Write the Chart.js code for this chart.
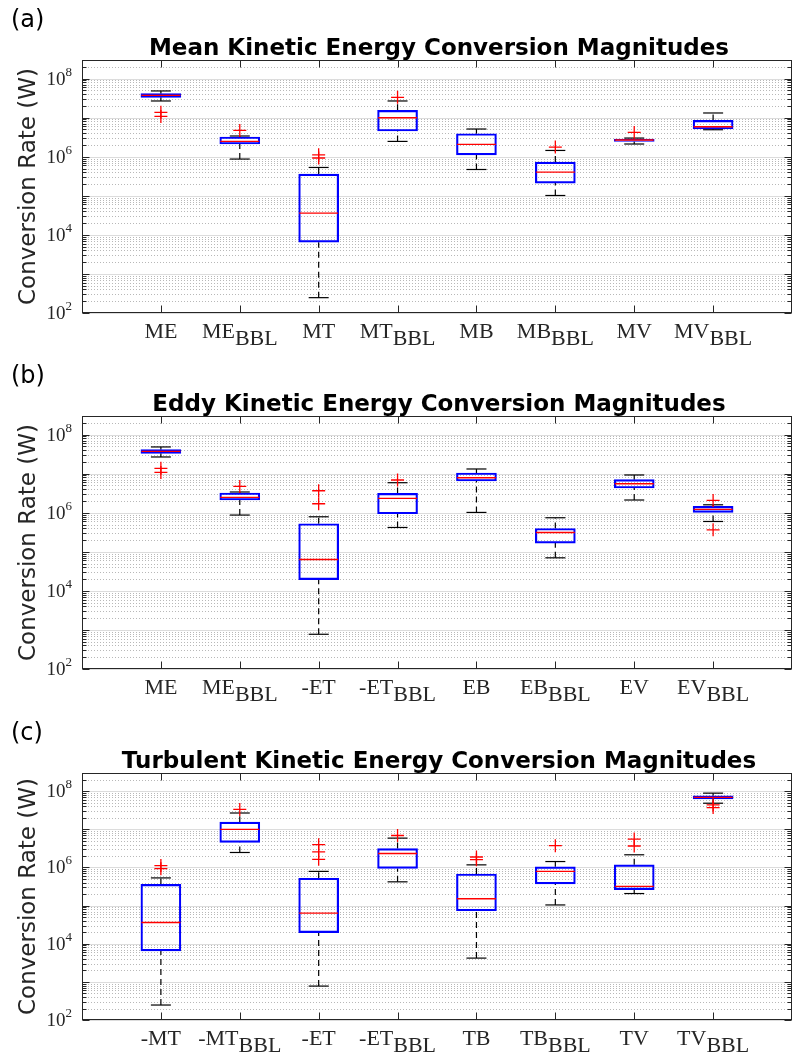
<!DOCTYPE html>
<html>
<head>
<meta charset="utf-8">
<script src="https://cdn.jsdelivr.net/npm/chart.js@4.4.1/dist/chart.umd.min.js"></script>
<style>
  body { margin: 0; background: #fff; }
  .panel { position: absolute; left: 0; }
</style>
</head>
<body>
<div class="panel" style="top:0px"><canvas id="chartA" width="793" height="356"></canvas></div>
<div class="panel" style="top:356px"><canvas id="chartB" width="793" height="356"></canvas></div>
<div class="panel" style="top:713px"><canvas id="chartC" width="793" height="350"></canvas></div>
<script>
// axis limits and tick labels
const yMin = 1e2;
const yMax = 3e8;
const yTickExponents = [2, 4, 6, 8];

// (a) mean kinetic energy
const meanLabels = ["ME", "ME_BBL", "MT", "MT_BBL", "MB", "MB_BBL", "MV", "MV_BBL"];
const meanLo  = [2.68e7, 8.73e5, 247,   2.47e6, 4.72e5, 1.02e5, 2.12e6, 4.92e6];
const meanQ1  = [3.32e7, 2.12e6, 6.5e3, 4.56e6, 1.12e6, 2.12e5, 2.47e6, 5.13e6];
const meanMed = [3.73e7, 2.47e6, 3.6e4, 1.0e7,  2.07e6, 4.05e5, 2.68e6, 5.88e6];
const meanQ3  = [4.12e7, 3.20e6, 3.6e5, 1.54e7, 3.89e6, 7.31e5, 2.84e6, 8.53e6];
const meanHi  = [4.84e7, 3.40e6, 5.32e5, 2.68e7, 5.13e6, 1.45e6, 3.01e6, 1.32e7];
const meanOut = [[1.37e7, 1.08e7], [4.72e6], [1.12e6, 9.3e5], [3.32e7], [], [1.77e6], [4.2e6], []];

// (b) eddy kinetic energy
const eddyLabels = ["ME", "ME_BBL", "-ET", "-ET_BBL", "EB", "EB_BBL", "EV", "EV_BBL"];
const eddyLo  = [2.68e7, 8.73e5, 775,    4.2e5,  1.02e6, 7.02e4, 2.12e6, 5.98e5];
const eddyQ1  = [3.32e7, 2.12e6, 1.95e4, 9.43e5, 6.5e6,  1.67e5, 4.3e6,  1.02e6];
const eddyMed = [3.73e7, 2.47e6, 6.35e4, 2.33e6, 7.89e6, 3.12e5, 5.54e6, 1.22e6];
const eddyQ3  = [4.12e7, 3.20e6, 5.22e5, 3.13e6, 1.04e7, 3.96e5, 7.02e6, 1.45e6];
const eddyHi  = [4.84e7, 3.40e6, 7.89e5, 5.88e6, 1.32e7, 7.45e5, 9.27e6, 1.60e6];
const eddyOut = [[1.37e7, 1.08e7], [4.72e6], [3.66e6, 1.70e6], [6.89e6], [], [], [], [2.07e6, 3.66e5]];

// (c) turbulent kinetic energy
const turbLabels = ["-MT", "-MT_BBL", "-ET", "-ET_BBL", "TB", "TB_BBL", "TV", "TV_BBL"];
const turbLo  = [247,    2.47e6, 775,    4.2e5,  4.2e3,  1.04e5, 2.07e5, 4.84e7];
const turbQ1  = [6.5e3,  4.56e6, 1.95e4, 9.43e5, 7.31e4, 3.73e5, 2.62e5, 6.24e7];
const turbMed = [3.6e4,  1.0e7,  6.35e4, 2.33e6, 1.51e5, 7.89e5, 3.2e5,  6.89e7];
const turbQ3  = [3.6e5,  1.54e7, 5.22e5, 3.13e6, 6.73e5, 1.04e6, 1.17e6, 7.57e7];
const turbHi  = [5.32e5, 2.68e7, 7.89e5, 5.88e6, 1.17e6, 1.43e6, 2.15e6, 8.89e7];
const turbOut = [[1.12e6, 9.3e5], [3.32e7], [3.96e6, 2.57e6, 1.63e6], [6.89e6], [1.88e6, 1.60e6], [3.73e6], [5.54e6, 3.66e6], [4.38e7, 3.73e7]];

const FRAME = "#262626";
const SERIF = '"Liberation Serif", "DejaVu Serif", serif';
const SANS = '"DejaVu Sans", sans-serif';

// grid, box frame, ticks and all the text around the axes
const matlabAxes = {
  id: "matlabAxes",
  beforeDatasetsDraw(chart) {
    const { ctx, chartArea: a, scales: { y } } = chart;
    ctx.save();
    ctx.lineWidth = 1;
    for (let d = 2; d <= 8; d++) {
      for (let m = 1; m <= 9; m++) {
        const v = m * Math.pow(10, d);
        if (v > yMax) break;
        const py = Math.round(y.getPixelForValue(v)) + 0.5;
        ctx.beginPath();
        if (m === 1) {
          ctx.setLineDash([]);
          ctx.strokeStyle = "#dcdcdc";
        } else {
          ctx.setLineDash([1, 2]);
          ctx.strokeStyle = "#b8b8b8";
        }
        ctx.moveTo(a.left, py);
        ctx.lineTo(a.right, py);
        ctx.stroke();
      }
    }
    ctx.restore();
  },
  afterDatasetsDraw(chart, args, opts) {
    const { ctx, chartArea: a, scales: { x, y } } = chart;
    const L = a.left + 0.5, R = a.right - 0.5, T = a.top + 0.5, B = a.bottom - 0.5;
    ctx.save();
    ctx.setLineDash([]);
    ctx.strokeStyle = FRAME;
    ctx.lineWidth = 1;
    ctx.strokeRect(L, T, R - L, B - T);

    // y ticks, left and right
    ctx.beginPath();
    for (let d = 2; d <= 8; d++) {
      for (let m = 1; m <= 9; m++) {
        const v = m * Math.pow(10, d);
        if (v > yMax) break;
        const py = Math.round(y.getPixelForValue(v)) + 0.5;
        const len = m === 1 ? 7 : 4;
        ctx.moveTo(L, py); ctx.lineTo(L + len, py);
        ctx.moveTo(R, py); ctx.lineTo(R - len, py);
      }
    }
    // x ticks, bottom and top
    opts.labels.forEach((_, i) => {
      const px = Math.round(x.getPixelForValue(i + 1)) + 0.5;
      ctx.moveTo(px, B); ctx.lineTo(px, B - 7);
      ctx.moveTo(px, T); ctx.lineTo(px, T + 7);
    });
    ctx.stroke();

    ctx.fillStyle = "#262626";
    // y tick labels 10^n
    yTickExponents.forEach(e => {
      const py = y.getPixelForValue(Math.pow(10, e));
      ctx.font = "13px " + SERIF;
      ctx.textAlign = "right";
      ctx.textBaseline = "alphabetic";
      const supW = ctx.measureText(String(e)).width;
      ctx.fillText(String(e), 72, py - 3);
      ctx.font = "19px " + SERIF;
      ctx.fillText("10", 72 - supW, py + 6);
    });

    // x tick labels with subscripts
    opts.labels.forEach((lab, i) => {
      const px = x.getPixelForValue(i + 1);
      const parts = lab.split("_");
      ctx.font = "22px " + SERIF;
      const w1 = ctx.measureText(parts[0]).width;
      const w2 = parts[1] ? ctx.measureText(parts[1]).width : 0;
      const x0 = px - (w1 + w2) / 2;
      ctx.textAlign = "left";
      ctx.fillText(parts[0], x0, a.bottom + 25);
      if (parts[1]) ctx.fillText(parts[1], x0 + w1, a.bottom + 32);
    });

    ctx.fillStyle = "#000";
    // title
    ctx.font = "bold 23px " + SANS;
    ctx.textAlign = "center";
    ctx.fillText(opts.title, (a.left + a.right) / 2 + 2, 55);
    // panel tag
    ctx.font = "24px " + SANS;
    ctx.textAlign = "left";
    ctx.fillText(opts.tag, 11, 27);
    // y axis title
    ctx.fillStyle = "#262626";
    ctx.translate(35, (a.top + a.bottom) / 2);
    ctx.rotate(-Math.PI / 2);
    ctx.font = "23px " + SANS;
    ctx.textAlign = "center";
    ctx.fillText("Conversion Rate (W)", 0, 0);
    ctx.restore();
  }
};

function boxDatasets(lo, q1, med, q3, hi, out) {
  const boxes = [], medians = [], whiskers = [], caps = [], outliers = [];
  lo.forEach((_, i) => {
    const x = i + 1;
    boxes.push({ x, y: [q1[i], q3[i]] });
    medians.push({ x, y: med[i] });
    whiskers.push({ x, y: q3[i] }, { x, y: hi[i] }, { x, y: null });
    whiskers.push({ x, y: lo[i] }, { x, y: q1[i] }, { x, y: null });
    caps.push({ x, y: hi[i] }, { x, y: lo[i] });
    out[i].forEach(v => outliers.push({ x, y: v }));
  });
  return [
    { type: "scatter", data: outliers, pointStyle: "cross", radius: 6.5,
      borderColor: "#ff0000", borderWidth: 1.3, order: 0 },
    { type: "scatter", data: medians, pointStyle: "line", radius: 19.5,
      borderColor: "#ff0000", borderWidth: 1.4, order: 1 },
    { type: "bar", data: boxes, backgroundColor: "rgba(0,0,0,0)", borderColor: "#0000ff",
      borderWidth: 1.5, borderSkipped: false, barThickness: 40, order: 2 },
    { type: "scatter", data: caps, pointStyle: "line", radius: 10,
      borderColor: "#000000", borderWidth: 1.2, order: 3 },
    { type: "line", data: whiskers, borderColor: "#000000", borderWidth: 1.2, borderDash: [6, 4],
      pointRadius: 0, spanGaps: false, fill: false, tension: 0, order: 4 }
  ];
}

function makeChart(id, tag, title, labels, sets) {
  new Chart(document.getElementById(id), {
    type: "bar",
    data: { datasets: boxDatasets(...sets) },
    options: {
      responsive: false,
      animation: false,
      events: [],
      layout: { autoPadding: false, padding: { left: 82, top: 60, right: 1, bottom: 43 } },
      scales: {
        x: { type: "linear", min: 0, max: 9, offset: false, display: false },
        y: { type: "logarithmic", min: yMin, max: yMax, display: false }
      },
      plugins: {
        legend: { display: false },
        tooltip: { enabled: false },
        matlabAxes: { tag, title, labels }
      }
    },
    plugins: [matlabAxes]
  });
}

makeChart("chartA", "(a)", "Mean Kinetic Energy Conversion Magnitudes", meanLabels,
  [meanLo, meanQ1, meanMed, meanQ3, meanHi, meanOut]);
makeChart("chartB", "(b)", "Eddy Kinetic Energy Conversion Magnitudes", eddyLabels,
  [eddyLo, eddyQ1, eddyMed, eddyQ3, eddyHi, eddyOut]);
makeChart("chartC", "(c)", "Turbulent Kinetic Energy Conversion Magnitudes", turbLabels,
  [turbLo, turbQ1, turbMed, turbQ3, turbHi, turbOut]);
</script>
</body>
</html>
